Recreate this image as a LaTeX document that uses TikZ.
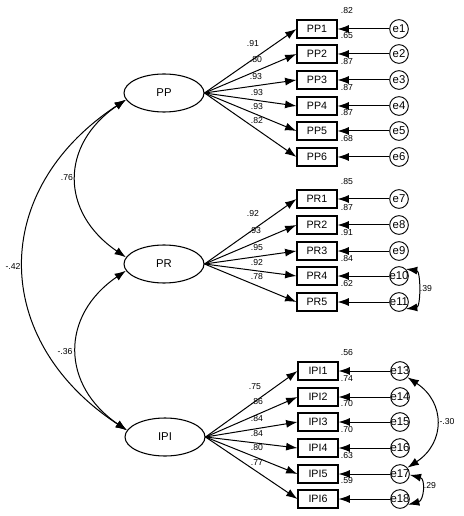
\documentclass[tikz,border=0pt]{standalone}
\usepackage{fontspec}
\setmainfont{Liberation Sans}
\usetikzlibrary{shapes}
\usetikzlibrary{arrows.meta}

\tikzset{
  latent/.style={draw, ellipse, line width=0.8pt, minimum width=60pt, minimum height=28.5pt, inner sep=0pt, font=\fontsize{8.5}{10}\selectfont},
  item/.style={draw, rectangle, line width=0.8pt, minimum width=30pt, minimum height=13.5pt, inner sep=0pt, font=\fontsize{8}{9}\selectfont},
  err/.style={draw, circle, line width=0.7pt, minimum size=14pt, inner sep=-2pt, font=\fontsize{8.5}{9}\selectfont},
  coef/.style={inner sep=0.75pt, font=\fontsize{6.5}{7}\selectfont},
  load/.style={-{Latex[length=8.5pt,width=6pt]}, line width=0.75pt},
  cov/.style={{Latex[length=8.5pt,width=6pt]}-{Latex[length=8.5pt,width=6pt]}, line width=0.75pt}
}

\begin{document}
\begin{tikzpicture}[x=0.75pt,y=0.75pt,yscale=-1,xscale=1]
\path[use as bounding box] (0,0) rectangle (463,516);

% Latent variables
\node [latent] (PP) at (164,93) {PP};
\node [latent] (PR) at (164,264) {PR};
\node [latent] (IPI) at (165,437) {IPI};

% Observed: PP
\node [item] (PP1) at (317,29) {PP1};
\node [item] (PP2) at (317,54) {PP2};
\node [item] (PP3) at (317,80) {PP3};
\node [item] (PP4) at (317,106) {PP4};
\node [item] (PP5) at (317,131) {PP5};
\node [item] (PP6) at (317,157) {PP6};
% Observed: PR
\node [item] (PR1) at (317,199) {PR1};
\node [item] (PR2) at (317,225) {PR2};
\node [item] (PR3) at (317,251) {PR3};
\node [item] (PR4) at (317,276) {PR4};
\node [item] (PR5) at (317,302) {PR5};
% Observed: IPI
\node [item] (IPI1) at (318,371) {IPI1};
\node [item] (IPI2) at (318,397) {IPI2};
\node [item] (IPI3) at (318,422) {IPI3};
\node [item] (IPI4) at (318,448) {IPI4};
\node [item] (IPI5) at (318,474) {IPI5};
\node [item] (IPI6) at (318,499) {IPI6};

% Errors
\node [err] (e1) at (399,29) {e1};
\node [err] (e2) at (399,54) {e2};
\node [err] (e3) at (399,80) {e3};
\node [err] (e4) at (399,106) {e4};
\node [err] (e5) at (399,131) {e5};
\node [err] (e6) at (399,157) {e6};
\node [err] (e7) at (399,199) {e7};
\node [err] (e8) at (399,225) {e8};
\node [err] (e9) at (399,251) {e9};
\node [err] (e10) at (399,276) {e10};
\node [err] (e11) at (399,302) {e11};
\node [err] (e13) at (400,371) {e13};
\node [err] (e14) at (400,397) {e14};
\node [err] (e15) at (400,422) {e15};
\node [err] (e16) at (400,448) {e16};
\node [err] (e17) at (400,474) {e17};
\node [err] (e18) at (400,499) {e18};

% Loadings
\draw [load] (PP.east) -- (PP1.west);
\draw [load] (PP.east) -- (PP2.west);
\draw [load] (PP.east) -- (PP3.west);
\draw [load] (PP.east) -- (PP4.west);
\draw [load] (PP.east) -- (PP5.west);
\draw [load] (PP.east) -- (PP6.west);
\draw [load] (PR.east) -- (PR1.west);
\draw [load] (PR.east) -- (PR2.west);
\draw [load] (PR.east) -- (PR3.west);
\draw [load] (PR.east) -- (PR4.west);
\draw [load] (PR.east) -- (PR5.west);
\draw [load] (IPI.east) -- (IPI1.west);
\draw [load] (IPI.east) -- (IPI2.west);
\draw [load] (IPI.east) -- (IPI3.west);
\draw [load] (IPI.east) -- (IPI4.west);
\draw [load] (IPI.east) -- (IPI5.west);
\draw [load] (IPI.east) -- (IPI6.west);

% Error paths
\draw [load] (e1) -- (PP1);
\draw [load] (e2) -- (PP2);
\draw [load] (e3) -- (PP3);
\draw [load] (e4) -- (PP4);
\draw [load] (e5) -- (PP5);
\draw [load] (e6) -- (PP6);
\draw [load] (e7) -- (PR1);
\draw [load] (e8) -- (PR2);
\draw [load] (e9) -- (PR3);
\draw [load] (e10) -- (PR4);
\draw [load] (e11) -- (PR5);
\draw [load] (e13) -- (IPI1);
\draw [load] (e14) -- (IPI2);
\draw [load] (e15) -- (IPI3);
\draw [load] (e16) -- (IPI4);
\draw [load] (e17) -- (IPI5);
\draw [load] (e18) -- (IPI6);

% Covariances
\draw [cov] (PP.190) .. controls +(-66,45) and +(-66,-45) .. (PR.170);
\draw [cov] (PR.190) .. controls +(-66,45) and +(-66,-45) .. (IPI.170);
\draw [cov] (PP.190) .. controls +(-137,90) and +(-137,-90) .. (IPI.170);
\draw [cov] (e10.45) .. controls +(15,2) and +(15,-2) .. (e11.-45);
\draw [cov] (e13.-40) .. controls +(38,25) and +(38,-25) .. (e17.40);
\draw [cov] (e17.-5) .. controls +(16,4) and +(16,-4) .. (e18.-35);

% Text Node: loadings
\node [coef] (lPP1) at (253,44) {.91};
\node [coef] (lPP2) at (256,60) {.80};
\node [coef] (lPP3) at (256,77) {.93};
\node [coef] (lPP4) at (257,93) {.93};
\node [coef] (lPP5) at (257,107) {.93};
\node [coef] (lPP6) at (257,121) {.82};
\node [coef] (lPR1) at (253,214) {.92};
\node [coef] (lPR2) at (255,231) {.93};
\node [coef] (lPR3) at (257,248) {.95};
\node [coef] (lPR4) at (257,263) {.92};
\node [coef] (lPR5) at (257,277) {.78};
\node [coef] (lIPI1) at (255,387) {.75};
\node [coef] (lIPI2) at (257,402) {.86};
\node [coef] (lIPI3) at (257,419) {.84};
\node [coef] (lIPI4) at (257,434) {.84};
\node [coef] (lIPI5) at (257,448) {.80};
\node [coef] (lIPI6) at (257,463) {.77};

% Text Node: squared multiple correlations
\node [coef] (rPP1) at (347,11) {.82};
\node [coef] (rPP2) at (347,36) {.65};
\node [coef] (rPP3) at (347,62) {.87};
\node [coef] (rPP4) at (347,88) {.87};
\node [coef] (rPP5) at (347,113) {.87};
\node [coef] (rPP6) at (347,139) {.68};
\node [coef] (rPR1) at (347,182) {.85};
\node [coef] (rPR2) at (347,208) {.87};
\node [coef] (rPR3) at (347,233) {.91};
\node [coef] (rPR4) at (347,259) {.84};
\node [coef] (rPR5) at (347,284) {.62};
\node [coef] (rIPI1) at (347,353) {.56};
\node [coef] (rIPI2) at (347,379) {.74};
\node [coef] (rIPI3) at (347,404) {.70};
\node [coef] (rIPI4) at (347,430) {.70};
\node [coef] (rIPI5) at (347,456) {.63};
\node [coef] (rIPI6) at (347,481) {.59};

% Text Node: covariances
\node [coef] (cPPPR) at (67,178) {.76};
\node [coef] (cPRIPI) at (65,352) {-.36};
\node [coef] (cPPIPI) at (13,266) {-.42};
\node [coef] (c1011) at (426,289) {.39};
\node [coef] (c1317) at (447,422) {-.30};
\node [coef] (c1718) at (430,486) {.29};

\end{tikzpicture}
\end{document}
